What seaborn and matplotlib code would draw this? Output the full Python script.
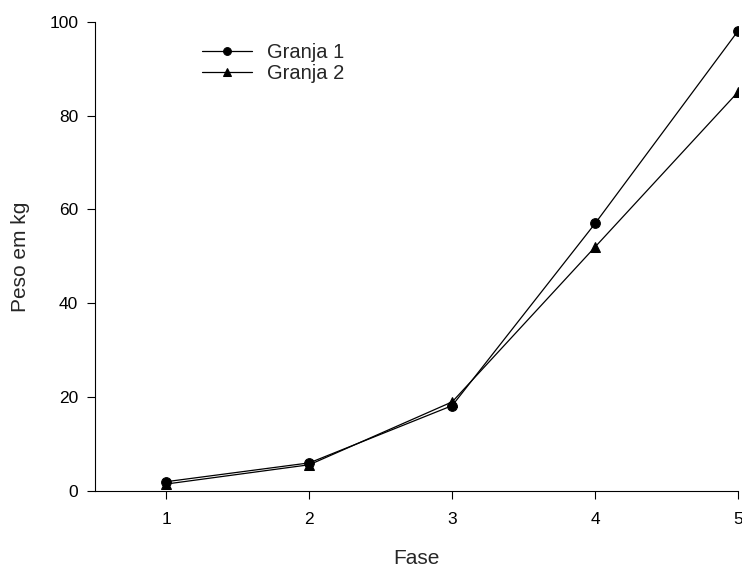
import matplotlib
matplotlib.use("Agg")
import matplotlib.pyplot as plt
import seaborn as sns
import pandas as pd

fases = [1, 2, 3, 4, 5]
granja1 = [2.0, 6.0, 18.2, 57.0, 98.0]
granja2 = [1.5, 5.6, 19.0, 52.0, 85.0]
series_names = ["Granja 1", "Granja 2"]

df = pd.DataFrame({
    "Fase": fases * 2,
    "Peso": granja1 + granja2,
    "Serie": [series_names[0]] * len(fases) + [series_names[1]] * len(fases),
})

sns.set_style("ticks")
plt.rcParams["font.family"] = ["Liberation Sans", "DejaVu Sans"]

fig = plt.figure(figsize=(7.42, 5.69), dpi=100)
ax = fig.add_axes([0.128, 0.137, 0.8666, 0.825])

sns.lineplot(data=df, x="Fase", y="Peso", style="Serie", markers=["o", "^"],
             dashes=False, color="black", linewidth=0.9, markersize=7,
             markeredgecolor="black", ax=ax)

ax.set_xlim(0.5, 5)
ax.set_ylim(0, 100)
ax.set_xticks(fases)
ax.set_yticks([0, 20, 40, 60, 80, 100])
ax.tick_params(axis="both", labelsize=12.5, length=6, width=0.8, color="black", labelcolor="black", direction="out")
ax.tick_params(axis="x", pad=9)
ax.tick_params(axis="y", pad=6)
ax.set_xlabel("Fase", fontsize=15, labelpad=16)
ax.set_ylabel("Peso em kg", fontsize=15, labelpad=14)
for s in ["top", "right"]:
    ax.spines[s].set_visible(False)
for s in ["left", "bottom"]:
    ax.spines[s].set_linewidth(0.8)
    ax.spines[s].set_color("black")

leg = ax.legend(title=None, frameon=False, fontsize=14.5, loc="upper left",
                bbox_to_anchor=(0.145, 0.985), handlelength=2.45, handletextpad=0.75,
                labelspacing=0.1, borderaxespad=0.3, markerscale=0.8)

fig.savefig("out.png", dpi=100)
